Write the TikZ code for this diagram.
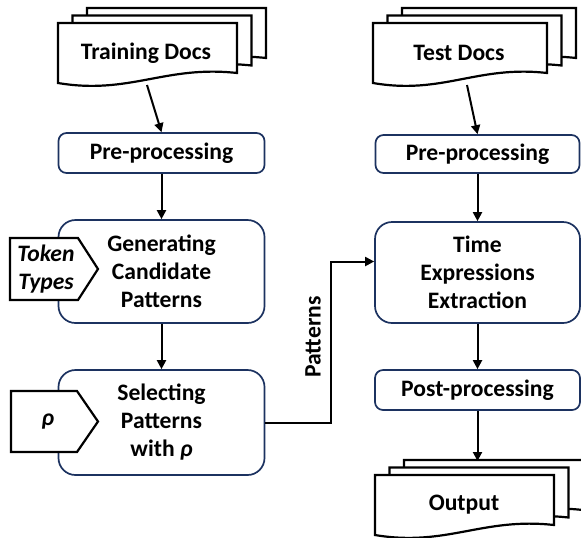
\documentclass[tikz,border=0pt]{standalone}
\usepackage{fontspec}
\setmainfont{Carlito}
\usetikzlibrary{arrows.meta}
\definecolor{boxblue}{RGB}{28,50,96}
\tikzset{
  stepbox/.style={draw=boxblue,line width=0.85pt,fill=white,rounded corners=4pt,
    minimum width=103pt,minimum height=20pt,align=center,inner sep=0pt},
  bigbox/.style={stepbox,rounded corners=8.5pt,minimum height=51.5pt},
  arr/.style={line width=1pt,-{Triangle[length=4.5pt,width=4.5pt]}},
  doc/.style={draw=black,line width=1.1pt,fill=white},
  inbox/.style={draw=black,line width=1.1pt,fill=white},
}
%% one page of a document stack: left, top, width
\newcommand{\docpage}[3]{
  \filldraw[doc] (#1,#2) -- ({#1+#3},#2) -- ({#1+#3},{#2+50})
    .. controls ({#1+0.6*#3},{#2+42}) and ({#1+0.4*#3},{#2+72}) .. (#1,{#2+60}) -- cycle;
}
\newcommand{\docstack}[3]{
  \docpage{#1+29}{#2-15}{#3}
  \docpage{#1+14.5}{#2-7.5}{#3}
  \docpage{#1}{#2}{#3}
}
\begin{document}
\begin{tikzpicture}[x=0.5pt,y=-0.5pt,font=\fontsize{11.8}{14}\selectfont\bfseries]
  \useasboundingbox (0,0) rectangle (581,537);
  \begin{scope}
  \clip (0,0) rectangle (581,537);
  %% documents
  \docstack{58}{23}{179}
  \docstack{373}{23}{174}
  \docstack{375}{475}{179}
  \end{scope}
  \node (traindocs) at (146,53) {Training Docs};
  \node (testdocs) at (459,53) {Test Docs};
  \node (output) at (464,505) {Output};
  \coordinate (trainbot) at (147,85);
  \coordinate (testbot) at (467,85);
  \coordinate (outtop) at (480,461);
  %% left column
  \node[stepbox] (pre1) at (161.5,153) {Pre-processing};
  \node[bigbox] (gen) at (161.5,271.5) {Generating\\Candidate\\Patterns};
  \node[bigbox,minimum height=52.5pt] (sel) at (161.5,422.5) {Selecting\\Patterns\\with \itshape ρ};
  %% right column
  \node[stepbox,minimum width=102pt,minimum height=19pt] (pre2) at (477.5,154) {Pre-processing};
  \node[bigbox,minimum width=102.5pt,minimum height=50.5pt] (time) at (477.5,272.5) {Time\\Expressions\\Extraction};
  \node[stepbox,minimum width=102.5pt] (post) at (477.5,390) {Post-processing};
  %% inputs
  \filldraw[inbox] (10,238) -- (78,238) -- (98,269) -- (78,300) -- (10,300) -- cycle;
  \node[align=center,font=\fontsize{11.8}{14}\selectfont\bfseries\itshape] (tokens) at (46,269) {Token\\Types};
  \filldraw[inbox] (11,391) -- (77,391) -- (98,421.5) -- (77,452) -- (11,452) -- cycle;
  \node[font=\fontsize{11.8}{14}\selectfont\bfseries\itshape] (rho) at (48,421.5) {ρ};
  %% arrows
  \draw[arr] (trainbot) -- (pre1.north);
  \draw[arr] (pre1) -- (gen);
  \draw[arr] (gen) -- (sel);
  \draw[arr] (testbot) -- (pre2.north);
  \draw[arr] (pre2) -- (time);
  \draw[arr] (time) -- (post);
  \draw[arr] (post.south) -- (post.south |- outtop);
  \draw[arr] (sel.east) -- ++(66,0) |- ([yshift=5.5pt]time.west);
  \node[rotate=90] (patterns) at (313,337) {Patterns};
\end{tikzpicture}
\end{document}
